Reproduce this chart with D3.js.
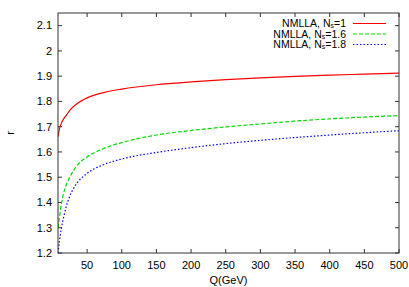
<!DOCTYPE html>
<html>
<head>
<meta charset="utf-8">
<script src="https://cdn.jsdelivr.net/npm/d3@7"></script>
<style>
  body { margin: 0; background: #fff; }
  svg text { font-family: "Liberation Sans", Arial, sans-serif; font-size: 11px; fill: #000; }
</style>
</head>
<body>
<svg id="chart" width="409" height="287"></svg>
<script>
'use strict';

// Q values (GeV) sampled along the curves
var qValues = [8, 10, 13, 16, 20, 25, 35, 50, 75, 100, 150, 200, 250, 300, 350, 400, 450, 500];

// r for each Ns
var rNs1  = [1.66, 1.69, 1.715, 1.73, 1.745, 1.765, 1.79, 1.814, 1.836, 1.849, 1.866, 1.877, 1.886, 1.893, 1.899, 1.904, 1.908, 1.912];
var rNs16 = [1.30, 1.34, 1.397, 1.435, 1.47, 1.50, 1.545, 1.58, 1.615, 1.637, 1.667, 1.685, 1.699, 1.711, 1.722, 1.731, 1.738, 1.744];
var rNs18 = [1.20, 1.245, 1.30, 1.34, 1.385, 1.425, 1.475, 1.515, 1.551, 1.572, 1.598, 1.617, 1.633, 1.646, 1.657, 1.667, 1.676, 1.684];

var seriesNames = ['1', '1.6', '1.8'];
var xTicks = [50, 100, 150, 200, 250, 300, 350, 400, 450, 500];
var yTicks = [1.2, 1.3, 1.4, 1.5, 1.6, 1.7, 1.8, 1.9, 2, 2.1];

var series = [
    {ns: seriesNames[0], values: rNs1,  color: '#ff0000', dash: null},
    {ns: seriesNames[1], values: rNs16, color: '#00dd00', dash: '4,2'},
    {ns: seriesNames[2], values: rNs18, color: '#0000ff', dash: '1.5,2'}
];

var margin = {left: 58, top: 13, right: 10, bottom: 34};
var width = 409, height = 287;

var svg = d3.select('#chart');

var x = d3.scaleLinear().domain([8, 500]).range([margin.left, width - margin.right]);
var y = d3.scaleLinear().domain([1.2, 2.15]).range([height - margin.bottom, margin.top]);

// Tick marks on all four sides, pointing inward (gnuplot style)
var tickLen = 4;
var axisColor = '#333';
var ticksG = svg.append('g');

xTicks.forEach(function(t) {
    ticksG.append('line')
        .attr('x1', x(t)).attr('x2', x(t))
        .attr('y1', y.range()[0]).attr('y2', y.range()[0] - tickLen)
        .attr('stroke', axisColor);
    ticksG.append('line')
        .attr('x1', x(t)).attr('x2', x(t))
        .attr('y1', y.range()[1]).attr('y2', y.range()[1] + tickLen)
        .attr('stroke', axisColor);
    svg.append('text')
        .attr('x', x(t)).attr('y', y.range()[0] + 16)
        .attr('text-anchor', 'middle')
        .text(t);
});

yTicks.forEach(function(t) {
    ticksG.append('line')
        .attr('x1', x.range()[0]).attr('x2', x.range()[0] + tickLen)
        .attr('y1', y(t)).attr('y2', y(t))
        .attr('stroke', axisColor);
    ticksG.append('line')
        .attr('x1', x.range()[1]).attr('x2', x.range()[1] - tickLen)
        .attr('y1', y(t)).attr('y2', y(t))
        .attr('stroke', axisColor);
    svg.append('text')
        .attr('x', x.range()[0] - 6).attr('y', y(t))
        .attr('dy', '0.35em')
        .attr('text-anchor', 'end')
        .text(d3.format('')(t));
});

// Curves
svg.append('clipPath').attr('id', 'plotclip')
    .append('rect')
    .attr('x', x.range()[0]).attr('y', y.range()[1])
    .attr('width', x.range()[1] - x.range()[0])
    .attr('height', y.range()[0] - y.range()[1]);

var line = d3.line()
    .x(function(d) { return x(d[0]); })
    .y(function(d) { return y(d[1]); })
    .curve(d3.curveMonotoneX);

series.forEach(function(s) {
    var pts = qValues.map(function(q, i) { return [q, s.values[i]]; });
    svg.append('path')
        .attr('clip-path', 'url(#plotclip)')
        .attr('d', line(pts))
        .attr('fill', 'none')
        .attr('stroke', s.color)
        .attr('stroke-width', 1.2)
        .attr('stroke-dasharray', s.dash);
});

// Frame
svg.append('rect')
    .attr('x', x.range()[0]).attr('y', y.range()[1])
    .attr('width', x.range()[1] - x.range()[0])
    .attr('height', y.range()[0] - y.range()[1])
    .attr('fill', 'none')
    .attr('stroke', axisColor)
    .attr('stroke-width', 1);

// Legend
var legY = [23.5, 34, 44.5];
series.forEach(function(s, i) {
    var t = svg.append('text')
        .attr('x', 346).attr('y', legY[i] + 3.5)
        .attr('text-anchor', 'end')
        .style('font-size', '10.5px');
    t.append('tspan').text('NMLLA, N');
    t.append('tspan').attr('baseline-shift', '-12%').style('font-size', '7px').text('s');
    t.append('tspan').text('=' + s.ns);
    svg.append('line')
        .attr('x1', 353).attr('x2', 386)
        .attr('y1', legY[i]).attr('y2', legY[i])
        .attr('stroke', s.color)
        .attr('stroke-width', 1.2)
        .attr('stroke-dasharray', s.dash);
});

// Axis labels
svg.append('text')
    .attr('x', (x.range()[0] + x.range()[1]) / 2).attr('y', 284)
    .attr('text-anchor', 'middle')
    .text('Q(GeV)');

svg.append('text')
    .attr('transform', 'translate(14,' + ((y.range()[0] + y.range()[1]) / 2) + ') rotate(-90)')
    .attr('text-anchor', 'middle')
    .text('r');
</script>
</body>
</html>
